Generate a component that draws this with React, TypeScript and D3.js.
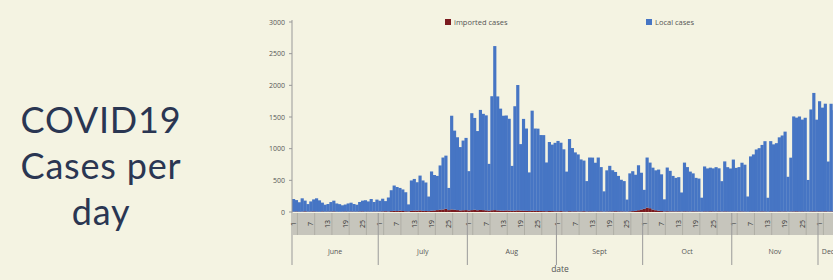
import React from "react";
import * as d3 from "d3";

// daily local cases, June 1 -> Dec 6
const june = [200, 180, 150, 210, 170, 120, 160, 190, 210, 180, 140, 110, 120, 150, 170, 130, 120, 100, 110, 130, 140, 120, 110, 150, 170, 180, 160, 200, 150, 190];
const july = [170, 200, 160, 220, 330, 400, 380, 360, 340, 300, 110, 480, 500, 450, 550, 480, 450, 230, 620, 560, 540, 700, 820, 840, 350, 1480, 1250, 1150, 1000, 1100, 1140];
const aug = [620, 1530, 1450, 1250, 1580, 1520, 1500, 740, 1800, 2590, 1800, 1610, 1500, 1500, 1450, 710, 1650, 1980, 1050, 1450, 1300, 610, 1580, 1300, 1300, 1200, 1200, 770, 1090, 1050, 1080];
const sept = [1110, 1080, 980, 630, 1140, 1000, 930, 900, 820, 800, 480, 850, 850, 770, 850, 700, 320, 650, 720, 650, 620, 560, 500, 480, 190, 600, 630, 570, 710, 580];
const oct = [300, 790, 720, 660, 630, 650, 580, 190, 690, 640, 560, 530, 540, 300, 770, 700, 630, 600, 530, 520, 220, 710, 680, 690, 680, 700, 680, 480, 790, 700, 680];
const nov = [820, 690, 700, 770, 740, 240, 870, 900, 980, 1000, 1050, 1110, 220, 1110, 1060, 1080, 1170, 1200, 1260, 550, 850, 1500, 1480, 1500, 1450, 1480, 500, 1610, 1870, 1450];
const dec = [1740, 1640, 1700, 790, 1700, 1600];

// small imported counts (same days)
const importedJune = [5, 8, 4, 6, 10, 5, 7, 9, 6, 4, 8, 5, 6, 7, 9, 5, 4, 6, 8, 5, 7, 6, 5, 8, 9, 6, 7, 5, 8, 6];
const importedJuly = [8, 10, 12, 9, 14, 18, 15, 20, 16, 12, 10, 18, 22, 20, 25, 18, 16, 14, 20, 24, 30, 35, 40, 50, 30, 40, 35, 30, 25, 28, 30];
const importedAug = [25, 30, 35, 28, 32, 30, 26, 20, 28, 30, 25, 22, 20, 24, 22, 18, 20, 25, 22, 20, 18, 15, 20, 18, 16, 15, 14, 12, 15, 14, 12];
const importedSept = [12, 14, 10, 8, 12, 10, 11, 9, 10, 12, 8, 10, 9, 8, 10, 9, 6, 8, 9, 10, 12, 10, 9, 8, 6, 10, 14, 18, 28, 40];
const importedOct = [50, 70, 60, 40, 28, 20, 15, 10, 12, 10, 10, 9, 10, 8, 10, 9, 8, 10, 9, 8, 6, 9, 8, 10, 9, 8, 10, 7, 9, 8, 7];
const importedNov = [8, 7, 9, 8, 7, 5, 8, 9, 7, 8, 9, 8, 5, 9, 8, 7, 9, 8, 9, 6, 8, 9, 10, 8, 9, 8, 6, 9, 10, 8];
const importedDec = [9, 8, 10, 7, 9, 8];

const months = ["June", "July", "Aug", "Sept", "Oct", "Nov", "Dec"];
const monthLengths = [30, 31, 31, 30, 31, 30, 6];
const dayLabels = [1, 7, 13, 19, 25];
const yTicks = [0, 500, 1000, 1500, 2000, 2500, 3000];
const titleLines = ["COVID19", "Cases per", "day"];

const localCases = [...june, ...july, ...aug, ...sept, ...oct, ...nov, ...dec];
const importedCases = [...importedJune, ...importedJuly, ...importedAug, ...importedSept, ...importedOct, ...importedNov, ...importedDec];

type Day = { key: string; month: number; day: number; imported: number; local: number };

const days: Day[] = [];
months.forEach((m, mi) => {
  for (let d = 1; d <= monthLengths[mi]; d++) {
    const i = days.length;
    days.push({ key: `${m}-${d}`, month: mi, day: d, imported: importedCases[i] ?? 0, local: localCases[i] ?? 0 });
  }
});

const W = 833;
const H = 280;
const BG = "#f4f3e2";
const BLUE = "#4675c4";
const RED = "#7a1a1f";

export default function App() {
  const x0 = 292;
  const step = (818 - x0) / 183;
  const x = d3
    .scaleBand<string>()
    .domain(days.map((d) => d.key))
    .range([x0, x0 + days.length * step])
    .padding(0);

  const y = d3.scaleLinear().domain([0, 3000]).range([212, 22]);

  const series = d3.stack<Day>().keys(["imported", "local"])(days);
  const colors = [RED, BLUE];

  const bandTop = 213;
  const bandBottom = 235;
  const monthStarts = days.filter((d) => d.day === 1);

  return (
    <svg width={W} height={H} style={{ position: "fixed", left: 0, top: 0, background: BG }}>
      <rect width={W} height={H} fill={BG} />

      {/* title */}
      <g fontFamily="Lato, 'Open Sans', sans-serif" fill="#2a3652" fontSize={36} textAnchor="middle" letterSpacing={0.8}>
        {titleLines.map((t, i) => (
          <text key={t} x={101} y={133 + i * 46}>
            {t}
          </text>
        ))}
      </g>

      {/* legend */}
      <g fontFamily="'Open Sans', sans-serif" fontSize={7.5} fill="#555">
        <rect x={445} y={19} width={6} height={6} fill={RED} />
        <text x={454} y={25}>imported cases</text>
        <rect x={646} y={19} width={6} height={6} fill={BLUE} />
        <text x={655} y={25}>Local cases</text>
      </g>

      {/* bars */}
      {series.map((s, si) => (
        <g key={s.key} fill={colors[si]}>
          {s.map((d, i) => (
            <rect
              key={i}
              x={x(days[i].key)!}
              y={y(d[1])}
              width={x.bandwidth() + 0.3}
              height={Math.max(0, y(d[0]) - y(d[1]))}
            />
          ))}
        </g>
      ))}

      {/* y axis */}
      <line x1={x0} x2={x0} y1={20} y2={265} stroke="#999" strokeWidth={1} />
      <g fontFamily="'Open Sans', sans-serif" fontSize={7} fill="#555" textAnchor="end">
        {yTicks.map((t) => (
          <g key={t}>
            <line x1={x0 - 3} x2={x0} y1={y(t)} y2={y(t)} stroke="#999" />
            <text x={x0 - 7} y={y(t) + 2.5}>
              {t}
            </text>
          </g>
        ))}
      </g>

      {/* day band */}
      <rect x={x0} y={bandTop} width={W - x0} height={bandBottom - bandTop} fill="#c6c5bc" />
      <g fontFamily="'Open Sans', sans-serif" fontSize={7} fill="#333">
        {days
          .filter((d) => dayLabels.includes(d.day))
          .map((d) => {
            const cx = x(d.key)! + x.bandwidth() / 2;
            return (
              <g key={d.key}>
                <line x1={cx + 4} x2={cx + 4} y1={bandTop} y2={bandBottom} stroke="#a9a8a0" strokeWidth={0.8} />
                <text transform={`translate(${cx + 2.5},${bandTop + 11}) rotate(-90)`} textAnchor="middle">
                  {d.day}
                </text>
              </g>
            );
          })}
      </g>

      {/* month separators and labels */}
      <g fontFamily="'Open Sans', sans-serif" fontSize={7} fill="#555" textAnchor="middle">
        {monthStarts.map((d, i) => {
          const left = x(d.key)!;
          const right = left + monthLengths[d.month] * step;
          const full = monthLengths[i] >= 28;
          const cx = full ? (left + right) / 2 : left + 10;
          return (
            <g key={d.key}>
              {i > 0 && <line x1={left} x2={left} y1={bandTop} y2={265} stroke="#999" strokeWidth={1} />}
              <text x={cx} y={254}>
                {months[i]}
              </text>
            </g>
          );
        })}
        <text x={560} y={272} fontSize={8.5}>
          date
        </text>
      </g>
    </svg>
  );
}
